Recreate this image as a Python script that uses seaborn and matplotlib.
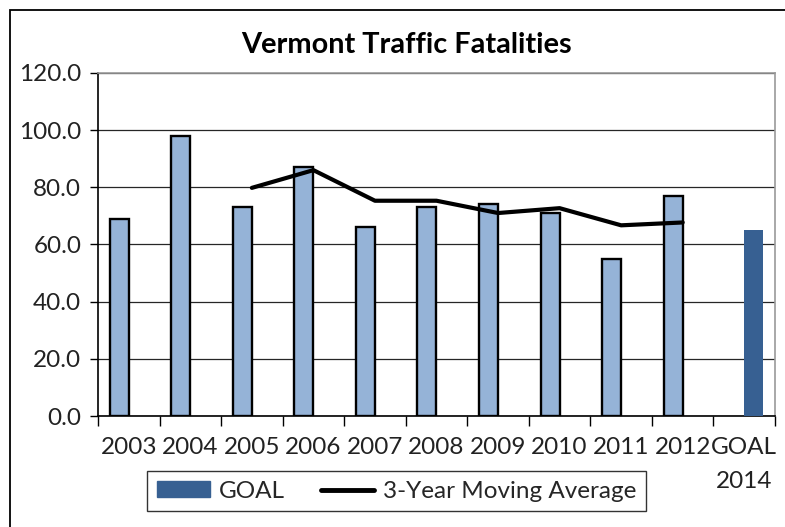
import numpy as np
import pandas as pd
import seaborn as sns
import matplotlib
import matplotlib.pyplot as plt
from matplotlib.patches import Patch, Rectangle
from matplotlib.lines import Line2D
from matplotlib.ticker import FormatStrFormatter

matplotlib.use('Agg')

# Data
categories = ['2003', '2004', '2005', '2006', '2007', '2008', '2009', '2010', '2011', '2012', 'GOAL\n2014']
fatalities = [69, 98, 73, 87, 66, 73, 74, 71, 55, 77, np.nan]
goal = [np.nan] * 10 + [65]
avg_years = ['2005', '2006', '2007', '2008', '2009', '2010', '2011', '2012']
moving_avg = [79.8, 86.0, 75.3, 75.3, 71.0, 72.7, 66.7, 67.7]
y_ticks = [0, 20, 40, 60, 80, 100, 120]

LIGHT = '#95B3D7'
DARK = '#376092'

sns.set_style('white')
plt.rcParams['font.family'] = ['Lato', 'DejaVu Sans']

df = pd.DataFrame({
    'category': categories * 2,
    'value': fatalities + goal,
    'series': ['Fatalities'] * len(categories) + ['GOAL'] * len(categories),
})

fig = plt.figure(figsize=(7.85, 5.27), dpi=100)
ax = fig.add_axes([0.1248, 0.2106, 0.8625, 0.651])

sns.barplot(data=df, x='category', y='value', hue='series', order=categories,
            palette={'Fatalities': LIGHT, 'GOAL': DARK}, width=0.62, gap=0,
            saturation=1, dodge=True, legend=False, ax=ax, zorder=3)

# light bars get a black outline, goal bar none
for bar in ax.containers[0]:
    bar.set_edgecolor('black')
    bar.set_linewidth(1.7)
for bar in ax.containers[1]:
    bar.set_linewidth(0)

# 3-year moving average line on the category positions
avg_pos = [categories.index(y) for y in avg_years]
sns.lineplot(x=avg_pos, y=moving_avg, color='black', linewidth=3, ax=ax, zorder=4)

ax.set_xlim(-0.5, len(categories) - 0.5)
ax.set_ylim(0, 120)
ax.set_yticks(y_ticks)
ax.yaxis.set_major_formatter(FormatStrFormatter('%.1f'))
ax.set_xticks(range(len(categories)))
ax.set_xticklabels(categories, linespacing=1.75, va='top')
ax.set_xticks(np.arange(-0.5, len(categories)), minor=True)
ax.set_xlabel('')
ax.set_ylabel('')

ax.grid(axis='y', color='#262626', linewidth=0.9, zorder=0)
ax.set_axisbelow(True)
ax.tick_params(axis='x', which='major', length=0, labelsize=17.5, pad=15, colors='black')
ax.tick_params(axis='x', which='minor', length=7, width=1, direction='out', color='black', bottom=True)
ax.tick_params(axis='y', length=6, width=1, direction='out', labelsize=17.5, pad=6, left=True, colors='black')
for lbl in ax.get_xticklabels() + ax.get_yticklabels():
    lbl.set_color('#222222')

ax.spines['left'].set_color('black')
ax.spines['bottom'].set_color('black')
ax.spines['top'].set_color('#9a9a9a')
ax.spines['right'].set_color('#9a9a9a')
for s in ax.spines.values():
    s.set_linewidth(1.2)

fig.text(0.518, 0.915, 'Vermont Traffic Fatalities', ha='center', va='center',
         fontsize=20.8, fontweight='bold', color='black')

handles = [Patch(facecolor=DARK, edgecolor=DARK, label='GOAL'),
           Line2D([0], [0], color='black', linewidth=3.5, label='3-Year Moving Average')]
leg = ax.legend(handles=handles, loc='center', bbox_to_anchor=(0.505, 0.068),
                bbox_transform=fig.transFigure, ncol=2, frameon=True, fancybox=False,
                edgecolor='black', fontsize=17.5, handlelength=2.2, handleheight=0.6,
                handletextpad=0.35, columnspacing=1.5, borderpad=0.4)
leg.get_frame().set_linewidth(1.0)

# outer chart border
fig.patches.append(Rectangle((10 / 785, -0.1), 1.2, 1.1 - 10 / 527, transform=fig.transFigure,
                             fill=False, edgecolor='black', linewidth=1.3))

fig.savefig('out.png', dpi=100)
